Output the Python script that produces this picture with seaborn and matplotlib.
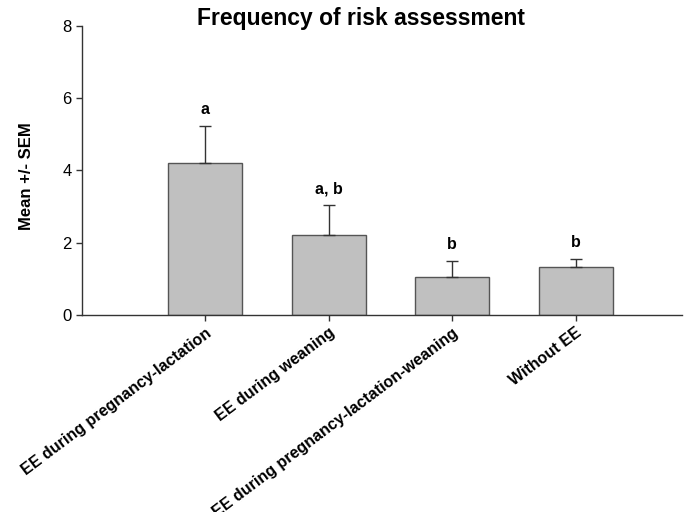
import pandas as pd
import numpy as np
import matplotlib
matplotlib.use('Agg')
import matplotlib.pyplot as plt
import seaborn as sns

# --- data ---
groups = ['EE during pregnancy-lactation', 'EE during weaning',
          'EE during pregnancy-lactation-weaning', 'Without EE']
means = [4.20, 2.20, 1.05, 1.32]
sems = [1.04, 0.84, 0.45, 0.24]
letters = ['a', 'a, b', 'b', 'b']

df = pd.DataFrame({'group': groups, 'mean': means, 'sem': sems})

sns.set_theme(style='ticks')
plt.rcParams['font.family'] = ['Liberation Sans', 'DejaVu Sans']
plt.rcParams['text.color'] = 'black'
plt.rcParams['xtick.labelcolor'] = 'black'
plt.rcParams['ytick.labelcolor'] = 'black'

fig = plt.figure(figsize=(6.9, 5.12), dpi=100)
ax = fig.add_axes([0.119, 0.385, 0.869, 0.564])

sns.barplot(data=df, x='group', y='mean', order=groups, color='#c0c0c0',
            saturation=1, width=0.6, edgecolor='#555555', linewidth=1, ax=ax,
            errorbar=None)

pos = np.arange(len(groups))
ax.errorbar(pos, df['mean'], yerr=[np.zeros(len(sems)), df['sem']],
            fmt='none', ecolor='#333333', elinewidth=1, capsize=4, capthick=1)

# significance letters above the error bars
for x, m, s, lab in zip(pos, means, sems, letters):
    ax.text(x, m + s + 0.24, lab, ha='center', va='bottom',
            fontsize=11.5, fontweight='bold')

ax.set_xlim(-1, 3.86)
ax.set_ylim(0, 8)
ax.set_yticks([0, 2, 4, 6, 8])
ax.set_xlabel('')
ax.set_ylabel('Mean +/- SEM', fontsize=12, fontweight='bold', color='black')
ax.yaxis.set_label_coords(-0.08, 0.48)
ax.tick_params(axis='y', labelsize=12, length=4, width=1, color='#333333')
ax.tick_params(axis='x', length=4, width=1, color='#333333')
plt.setp(ax.get_xticklabels(), rotation=37, ha='right', rotation_mode='anchor',
         fontsize=11.5, fontweight='bold')
for side in ['left', 'bottom']:
    ax.spines[side].set_color('#333333')
    ax.spines[side].set_linewidth(1)
sns.despine(ax=ax)

fig.text(0.523, 0.963, 'Frequency of risk assessment', ha='center',
         va='center', fontsize=16.5, fontweight='bold')

fig.savefig('out.png', dpi=100)
